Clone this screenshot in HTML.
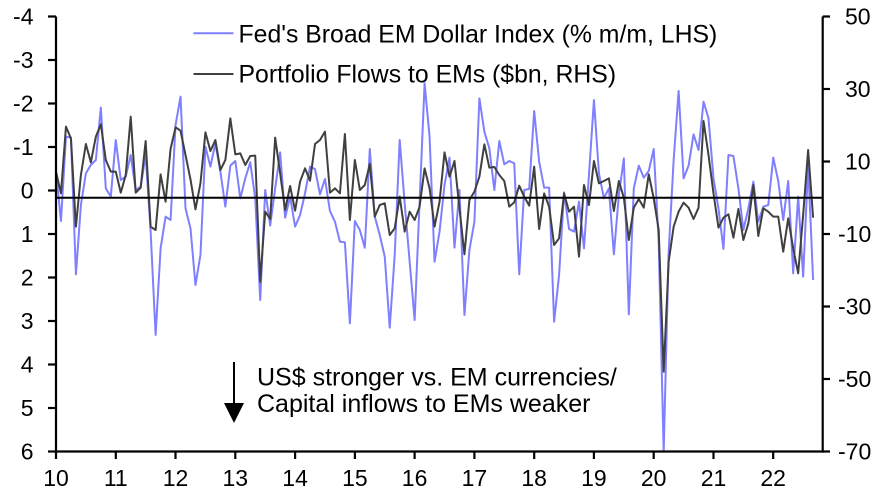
<!DOCTYPE html>
<html>
<head>
<meta charset="utf-8">
<style>
  html,body{margin:0;padding:0;background:#fff;}
  svg{display:block;}
  text{font-family:"Liberation Sans",Arial,sans-serif;fill:#000;}
</style>
</head>
<body>
<svg width="888" height="502" viewBox="0 0 888 502" xmlns="http://www.w3.org/2000/svg">
  <rect x="0" y="0" width="888" height="502" fill="#fff"/>

  <!-- Series -->
  <g transform="translate(56,75) scale(4.981,0.333333)">
    <polyline fill="none" stroke="#7f7fff" stroke-width="2" stroke-linejoin="round" vector-effect="non-scaling-stroke"
      points="0,290 1,438 2,185 3,188 4,598 5,390 6,295 7,270 8,255 9,98 10,340 11,365 12,195 13,315 14,305 15,240 16,345 17,335 18,240 19,470 20,780 21,520 22,425 23,435 24,150 25,65 26,400 27,460 28,630 29,540 30,215 31,275 32,205 33,290 34,395 35,272 36,258 37,370 38,310 39,262 40,370 41,675 42,345 43,452 44,340 45,232 46,428 47,365 48,455 49,420 50,355 51,275 52,282 53,358 54,312 55,408 56,440 57,500 58,502 59,745 60,438 61,465 62,518 63,222 64,425 65,480 66,545 67,758 68,540 69,195 70,385 71,560 72,735 73,380 74,25 75,185 76,560 77,470 78,330 79,248 80,518 81,345 82,720 83,525 84,440 85,70 86,170 87,220 88,345 89,198 90,268 91,258 92,265 93,598 94,345 95,342 96,108 97,260 98,338 99,338 100,740 101,600 102,352 103,462 104,470 105,380 106,520 107,300 108,75 109,295 110,370 111,340 112,538 113,360 114,250 115,718 116,340 117,272 118,308 119,288 120,222 121,500 122,1130 123,530 124,255 125,48 126,310 127,272 128,178 129,225 130,80 131,130 132,310 133,400 134,522 135,240 136,243 137,340 138,465 139,400 140,320 141,440 142,395 143,390 144,248 145,318 146,435 147,318 148,595 149,365 150,605 151,270 152,615"/>
    <polyline fill="none" stroke="#404040" stroke-width="2" stroke-linejoin="round" vector-effect="non-scaling-stroke"
      points="0,290 1,355 2,155 3,190 4,455 5,300 6,207 7,262 8,185 9,148 10,255 11,290 12,290 13,353 14,300 15,125 16,353 17,338 18,198 19,455 20,465 21,298 22,380 23,222 24,157 25,167 26,240 27,313 28,403 29,325 30,172 31,228 32,195 33,285 34,255 35,130 36,238 37,235 38,270 39,243 40,242 41,620 42,410 43,432 44,188 45,295 46,405 47,333 48,407 49,320 50,280 51,317 52,207 53,195 54,170 55,353 56,340 57,355 58,177 59,435 60,255 61,345 62,330 63,267 64,425 65,390 66,385 67,480 68,460 69,365 70,470 71,410 72,435 73,395 74,280 75,340 76,455 77,380 78,232 79,305 80,258 81,400 82,538 83,375 84,350 85,305 86,208 87,278 88,276 89,300 90,318 91,395 92,382 93,332 94,365 95,392 96,275 97,462 98,355 99,395 100,510 101,490 102,355 103,410 104,395 105,545 106,330 107,390 108,258 109,325 110,318 111,310 112,408 113,318 114,368 115,495 116,398 117,372 118,398 119,298 120,370 121,465 122,890 123,560 124,455 125,410 126,383 127,398 128,432 129,398 130,138 131,240 132,355 133,458 134,428 135,418 136,488 137,402 138,495 139,445 140,330 141,483 142,400 143,410 144,425 145,425 146,530 147,430 148,520 149,595 150,420 151,225 152,428"/>
  </g>

  <!-- zero line -->
  <line x1="56" y1="197.8" x2="822.7" y2="197.8" stroke="#000" stroke-width="2"/>

  <!-- Axes -->
  <g stroke="#000" stroke-width="2.2" fill="none">
    <line x1="56" y1="16.5" x2="56" y2="452.6"/>
    <line x1="822.7" y1="16.5" x2="822.7" y2="452.6"/>
    <line x1="54.9" y1="451.5" x2="823.8" y2="451.5"/>
    <!-- left ticks -->
    <line x1="48" y1="16.5" x2="56" y2="16.5"/>
    <line x1="48" y1="60" x2="56" y2="60"/>
    <line x1="48" y1="103.5" x2="56" y2="103.5"/>
    <line x1="48" y1="147" x2="56" y2="147"/>
    <line x1="48" y1="190.5" x2="56" y2="190.5"/>
    <line x1="48" y1="234" x2="56" y2="234"/>
    <line x1="48" y1="277.5" x2="56" y2="277.5"/>
    <line x1="48" y1="321" x2="56" y2="321"/>
    <line x1="48" y1="364.5" x2="56" y2="364.5"/>
    <line x1="48" y1="408" x2="56" y2="408"/>
    <line x1="48" y1="451.5" x2="56" y2="451.5"/>
    <!-- right ticks -->
    <line x1="822.7" y1="16.5" x2="830" y2="16.5"/>
    <line x1="822.7" y1="89" x2="830" y2="89"/>
    <line x1="822.7" y1="161.5" x2="830" y2="161.5"/>
    <line x1="822.7" y1="234" x2="830" y2="234"/>
    <line x1="822.7" y1="306.5" x2="830" y2="306.5"/>
    <line x1="822.7" y1="379" x2="830" y2="379"/>
    <line x1="822.7" y1="451.5" x2="830" y2="451.5"/>
    <!-- x ticks -->
    <line x1="56" y1="451.5" x2="56" y2="459"/>
    <line x1="115.8" y1="451.5" x2="115.8" y2="459"/>
    <line x1="175.5" y1="451.5" x2="175.5" y2="459"/>
    <line x1="235.3" y1="451.5" x2="235.3" y2="459"/>
    <line x1="295.1" y1="451.5" x2="295.1" y2="459"/>
    <line x1="354.9" y1="451.5" x2="354.9" y2="459"/>
    <line x1="414.6" y1="451.5" x2="414.6" y2="459"/>
    <line x1="474.4" y1="451.5" x2="474.4" y2="459"/>
    <line x1="534.2" y1="451.5" x2="534.2" y2="459"/>
    <line x1="593.9" y1="451.5" x2="593.9" y2="459"/>
    <line x1="653.7" y1="451.5" x2="653.7" y2="459"/>
    <line x1="713.5" y1="451.5" x2="713.5" y2="459"/>
    <line x1="773.2" y1="451.5" x2="773.2" y2="459"/>
  </g>

  <!-- Left labels -->
  <g font-size="23" text-anchor="end">
    <text x="33.5" y="24.7">-4</text>
    <text x="33.5" y="68.2">-3</text>
    <text x="33.5" y="111.7">-2</text>
    <text x="33.5" y="155.2">-1</text>
    <text x="33.5" y="198.7">0</text>
    <text x="33.5" y="242.2">1</text>
    <text x="33.5" y="285.7">2</text>
    <text x="33.5" y="329.2">3</text>
    <text x="33.5" y="372.7">4</text>
    <text x="33.5" y="416.2">5</text>
    <text x="33.5" y="459.7">6</text>
  </g>

  <!-- Right labels -->
  <g font-size="23" text-anchor="start">
    <text x="845" y="24.7">50</text>
    <text x="845" y="97.2">30</text>
    <text x="845" y="169.7">10</text>
    <text x="838" y="242.2">-10</text>
    <text x="838" y="314.7">-30</text>
    <text x="838" y="387.2">-50</text>
    <text x="838" y="459.7">-70</text>
  </g>

  <!-- X labels -->
  <g font-size="23" text-anchor="middle">
    <text x="56" y="486">10</text>
    <text x="115.8" y="486">11</text>
    <text x="175.5" y="486">12</text>
    <text x="235.3" y="486">13</text>
    <text x="295.1" y="486">14</text>
    <text x="354.9" y="486">15</text>
    <text x="414.6" y="486">16</text>
    <text x="474.4" y="486">17</text>
    <text x="534.2" y="486">18</text>
    <text x="593.9" y="486">19</text>
    <text x="653.7" y="486">20</text>
    <text x="713.5" y="486">21</text>
    <text x="773.2" y="486">22</text>
  </g>

  <!-- Legend -->
  <line x1="193.5" y1="33.3" x2="233.5" y2="33.3" stroke="#7f7fff" stroke-width="2"/>
  <line x1="193.5" y1="74" x2="233.5" y2="74" stroke="#404040" stroke-width="2"/>
  <text x="238.5" y="42.7" font-size="24.8">Fed's Broad EM Dollar Index (% m/m, LHS)</text>
  <text x="238.5" y="82.5" font-size="24.8">Portfolio Flows to EMs ($bn, RHS)</text>

  <!-- Annotation -->
  <line x1="234" y1="362" x2="234" y2="406" stroke="#000" stroke-width="2"/>
  <polygon points="224,403 244,403 234,423" fill="#000"/>
  <text x="257" y="385.7" font-size="25">US$ stronger vs. EM currencies/</text>
  <text x="257" y="412" font-size="25">Capital inflows to EMs weaker</text>
</svg>
</body>
</html>
